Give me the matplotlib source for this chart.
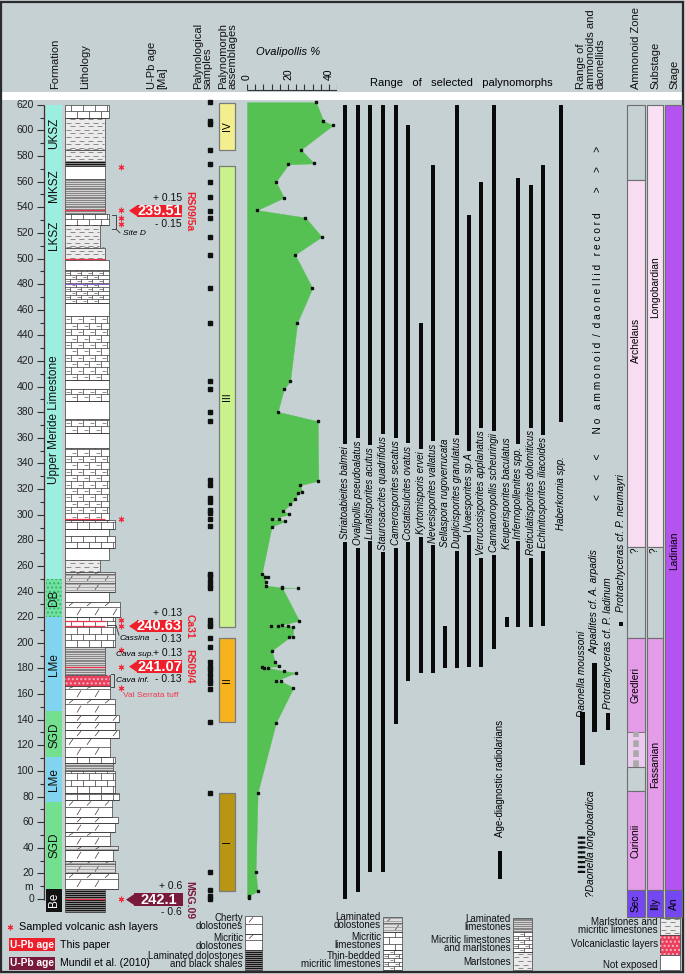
import numpy as np
import matplotlib
matplotlib.use("Agg")
import matplotlib.pyplot as plt
from matplotlib.patches import Rectangle, Polygon
from matplotlib.collections import LineCollection

plt.rcParams['font.family'] = ['Liberation Sans', 'DejaVu Sans']
plt.rcParams['hatch.color'] = '#3fae66'

BG = '#c6d1d3'

# ---------------------------------------------------------------- data
DEPTH_MAJOR = list(range(0, 621, 20))

FORM_NAMES = ['Be', 'SGD', 'LMe', 'SGD', 'LMe', 'DB', 'Upper Meride Limestone']
FORM_BASE = [-10, 7.8, 75.7, 110.8, 146.8, 220, 250]
FORM_TOP = [7.8, 75.7, 110.8, 146.8, 220, 250, 620]
FORM_LABEL_AT = [-1, 42, 93, 128, 183, 235, 374]
MEMBERS = ['UKSZ', 'MKSZ', 'LKSZ']
MEMBER_AT = [598, 557, 518]

# lithology beds: base, top, kind, right edge (column width)
LITHO = [
    (-10, 7.8, 'shale', 105), (7.8, 20, 'dolo', 118), (20, 30, 'lamdolo', 115),
    (30, 38, 'dolo', 113), (38, 41, 'lamdolo', 118), (41, 52, 'dolo', 110),
    (52, 59, 'dolo', 115), (59, 64, 'dolo', 118), (64, 77, 'dolo', 112),
    (77, 83, 'lime', 119), (83, 100, 'lime', 115), (100, 106, 'lamlime', 113),
    (106, 111, 'lime', 115), (111, 126, 'dolo', 110), (126, 132, 'dolo', 119),
    (132, 138, 'dolo', 115), (138, 144, 'dolo', 119), (144, 156, 'dolo', 115),
    (156, 166, 'dolo', 110), (166, 175, 'volc', 110), (175, 197, 'lamlime', 105),
    (197, 220, 'lime', 115), (220, 232, 'dolo', 120), (232, 240, 'none', 109),
    (240, 255, 'lamdolo', 115), (255, 265, 'marl', 100), (265, 274, 'none', 109),
    (274, 283, 'lime', 115), (283, 289, 'none', 109), (289, 296, 'lime', 115),
    (296, 352, 'limed', 109), (352, 364, 'none', 109), (364, 375, 'limed', 109),
    (375, 389, 'none', 109), (389, 398, 'limed', 109), (398, 405, 'none', 109),
    (405, 455, 'limed', 109), (455, 465, 'none', 109), (465, 491, 'tblime', 109),
    (491, 499, 'none', 109), (499, 508, 'marl', 105), (508, 526, 'marl', 100),
    (526, 535, 'lime', 109), (535, 562, 'lamlime', 105), (562, 572, 'none', 105),
    (572, 576, 'shale', 105), (576, 585, 'marl', 105), (585, 610, 'marl', 105),
    (610, 620, 'lime', 109),
]
ASH_LINES = [537.5, 500, 297, 217, 213, 181.4, 0]
ASH_STARS = [571.5, 537.5, 532, 527, 297, 218, 213, 194, 181.4, 164.5, -0.3]

AGES = ['239.51', '240.63', '241.07', '242.1']
AGE_DEPTH = [537.3, 213.0, 181.4, -0.5]
AGE_ERR = ['0.15', '0.13', '0.13', '0.6']
AGE_ID = ['RS09/5a', 'Ca31', 'RS09/4', 'MSG.09']
AGE_SRC = ['this', 'this', 'this', 'mundil']

SAMPLES = [622, 607, 605, 585, 574, 560, 548, 537, 532, 517, 503, 477, 450, 404,
           398, 380, 373, 327, 323, 313, 310, 304, 301, 297, 291, 254, 252, 248,
           245, 243, 218, 215, 213, 204, 197, 185, 181, 179, 175, 171, 169, 164,
           138, 83, 21, 7, 2, 0]

ASSEMB = ['IV', 'III', 'II', 'I']
ASSEMB_BASE = [585, 212, 138, 6]
ASSEMB_TOP = [621, 572, 204, 83]

OVA_DEPTH = [622, 607.6, 604, 585, 574.3, 573.5, 560, 547.5, 537.8, 532, 517, 503,
             477, 450, 404, 398, 380.4, 373, 326.5, 323, 318, 317, 312, 308, 303,
             300.5, 296.6, 296.4, 295, 290.6, 253.7, 251.6, 251, 247.7, 244.6,
             243.2, 243, 242.8, 217.3, 213.9, 213.4, 213.1, 213, 212.6, 204.8,
             204.3, 193.8, 185.2, 181.5, 181.3, 180.6, 180.5, 178, 176.7, 170.4,
             170.2, 165, 137.6, 83, 21.3, 6.2, 2.6, 0.5]
OVA_PCT = [33.7, 37.2, 41.8, 26.3, 32.7, 20.2, 14.1, 18.0, 5.0, 28.5, 36.4, 23.4,
           31.9, 24.5, 21.0, 18.0, 15.0, 34.5, 34.8, 25.9, 27.0, 25.0, 23.4, 21.0,
           17.7, 20.6, 12.4, 15.6, 18.5, 12.0, 7.2, 10.4, 8.8, 9.1, 9.3,
           17.2, 24.7, 17.2, 25.4, 16.9, 11.6, 15.3, 20.1, 22.6, 22.3,
           20.7, 12.0, 13.7, 15.6, 7.2, 8.4, 10.4, 18.0, 23.7, 14.1,
           16.4, 22.6, 14.1, 5.2, 4.2, 5.2, 1.0, 1.0]

SPECIES = ['Striatoabieites balmei', 'Ovalipollis pseudoalatus', 'Lunatisporites acutus',
           'Staurosaccites quadrifidus', 'Camerosporites secatus', 'Costatisulcites ovatus',
           'Kyrtomisporis ervei', 'Nevesisporites vallatus', 'Sellaspora rugoverrucata',
           'Duplicisporites granulatus', 'Uvaesporites sp.A', 'Verrucosisporites applanatus',
           'Cannanoropollis scheuringii', 'Keuperisporites baculatus', 'Infernopollenites spp.',
           'Reticulatisporites dolomiticus', 'Echinitosporites iliacoides', 'Haberkornia spp.']
SPECIES_BASE = [0, 5.7, 21.3, 21.3, 137, 170, 176.7, 176.7, 180.6, 180.6, 181.3, 181.3,
                195, 212.4, 212.4, 212.4, 213.4, 372.6]
SPECIES_TOP = [620, 620, 620, 620, 620, 604, 450, 573, 213.4, 620, 534, 560,
               620, 220, 563, 557, 573, 620]
SPECIES_X = [345, 357.7, 370, 383.3, 395.7, 408.3, 420.7, 432.7, 445, 457.3, 469, 481,
             494, 506.7, 518.3, 531, 543.3, 561]
RADIOLARIA = (15.6, 37.5)

AMMO = ['Daonella moussoni', 'Arpadites cf. A. arpadis', 'Protrachyceras cf. P. ladinum',
        'Protrachyceras cf. P. neumayri']
AMMO_BASE = [104.6, 130.6, 132, 213.5]
AMMO_TOP = [146, 184, 145, 216.5]
AMMO_X = [582.5, 594.5, 608, 621]
AMMO_LABEL_AT = [176, 232, 200, 278]
LONGOBARDICA = (20, 50)

ZONES = ['', 'Archelaus', '', 'Gredleri', '', '', 'Curionii', 'Sec']
ZONE_BASE = [561, 275, 203.5, 130.6, 103, 84, 7, -14]
ZONE_TOP = [620, 561, 275, 203.5, 130.6, 103, 84, 7]
ZONE_COL = [BG, '#f8dcf2', BG, '#e49be8', 'striped', BG, '#e49be8', '#7447f2']
ZONE_LABEL_AT = [None, 436, None, 167, None, None, 45, -3.5]
SUBSTAGES = ['Longobardian', '', 'Fassanian', 'Illy']
SUB_BASE = [275, 203.5, 7, -14]
SUB_TOP = [620, 275, 203.5, 7]
SUB_COL = ['#f9e0f4', BG, '#e49be8', '#7447f2']
SUB_LABEL_AT = [478, None, 105, -3.5]
STAGES = ['Ladinian', 'An']
STAGE_BASE = [7, -14]
STAGE_TOP = [620, 7]
STAGE_COL = ['#b553f0', '#7447f2']
STAGE_LABEL_AT = [272, -3.5]

# ---------------------------------------------------------------- layout
PPM, Y0 = 1.281, 899.0          # pixels per metre, pixel row of 0 m
M_TOP, M_BOT = Y0 / PPM, (Y0 - 974) / PPM
LX0 = 65                          # left edge of the lithology column

fig = plt.figure(figsize=(6.85, 9.74), dpi=100)
fig.patch.set_facecolor(BG)
lay = fig.add_axes([0, 0, 1, 1])
lay.set_xlim(0, 685)
lay.set_ylim(974, 0)
lay.axis('off')
ax = fig.add_axes([0, 0, 1, 1], zorder=1)
ax.set_xlim(0, 685)
ax.set_ylim(M_BOT, M_TOP)
ax.axis('off')

lay.add_patch(Rectangle((2, 92), 681, 8, facecolor='white', edgecolor='none'))
lay.add_patch(Rectangle((1.5, 1.5), 682, 970.5, fill=False, edgecolor='#2b2b2b', lw=1.6))

# ------------------------------------------------ lithology painters
SEG = {'k': [], 'g': [], 'lg': []}


def bed(b, t, x1, fc, x0=LX0):
    ax.add_patch(Rectangle((x0, b), x1 - x0, t - b, facecolor=fc, edgecolor='#3c3c3c',
                           linewidth=0.5, zorder=2))


def rows(b, t, step):
    ys = list(np.arange(b, t, step))
    return [(y, min(y + step, t)) for y in ys if t - y > 0.4]


def lime(b, t, x1, x0=LX0, step=5.0, bw=12.0, thin=False):
    bed(b, t, x1, 'white', x0)
    for i, (y, y2) in enumerate(rows(b, t, step)):
        SEG['k'].append([(x0, y), (x1, y)])
        x = x0 + bw * (0.5 if i % 2 else 1.0)
        while x < x1 - 1:
            SEG['k'].append([(x, y), (x, y2)])
            if thin:
                SEG['g'].append([(x - bw * 0.38, (y + y2) / 2), (x - bw * 0.08, (y + y2) / 2)])
            x += bw


def dolo(b, t, x1, x0=LX0, step=8.0, fc='white'):
    bed(b, t, x1, fc, x0)
    for i, (y, y2) in enumerate(rows(b, t, step)):
        SEG['k'].append([(x0, y), (x1, y)])
        x = x0 + (4 if i % 2 else 12)
        while x < x1 - 5:
            SEG['k'].append([(x, y + 0.2 * (y2 - y)), (x + 4, y + 0.85 * (y2 - y))])
            x += 18


def lamdolo(b, t, x1, x0=LX0):
    dolo(b, t, x1, x0, step=7.0, fc='#dedede')
    for y in np.arange(b + 1.2, t, 2.4):
        SEG['lg'].append([(x0, y), (x1, y)])


def lamlime(b, t, x1, x0=LX0):
    bed(b, t, x1, '#d2d2d2', x0)
    for y in np.arange(b + 0.7, t, 1.4):
        SEG['g'].append([(x0, y), (x1, y)])


def shale(b, t, x1, x0=LX0):
    bed(b, t, x1, '#141414', x0)
    for y in np.arange(b + 0.8, t, 1.6):
        SEG['lg'].append([(x0, y), (x1, y)])


def marl(b, t, x1, x0=LX0):
    bed(b, t, x1, '#ebebeb', x0)
    for i, (y, y2) in enumerate(rows(b, t, 2.8)):
        x = x0 + (1 if i % 2 else 5)
        while x < x1 - 2:
            SEG['g'].append([(x, y + 1.4), (min(x + 5, x1 - 1), y + 1.4)])
            x += 9


def volc(b, t, x1, x0=LX0):
    bed(b, t, x1, '#e8405c', x0)
    ax.add_patch(Rectangle((x0, b), x1 - x0, t - b, facecolor='none', edgecolor='#f7b3c0',
                           hatch='....', linewidth=0, zorder=2))


def noexp(b, t, x1, x0=LX0):
    bed(b, t, x1, 'white', x0)


PAINT = {'lime': lime,
         'limed': lambda b, t, x1, x0=LX0: lime(b, t, x1, x0, 5.0, 12, True),
         'tblime': lambda b, t, x1, x0=LX0: lime(b, t, x1, x0, 3.2, 11, True),
         'dolo': dolo, 'lamdolo': lamdolo, 'lamlime': lamlime, 'shale': shale,
         'marl': marl, 'volc': volc, 'none': noexp}

# ------------------------------------------------ depth scale
ax.vlines(44, -1, 620, color='#333', lw=0.9)
for m in range(0, 621, 10):
    major = m % 20 == 0
    ax.hlines(m, 37 if major else 40, 44, color='#333', lw=0.8)
for m in DEPTH_MAJOR:
    ax.text(34, m, str(m), ha='right', va='center', fontsize=7.5, color='#222')
ax.text(33, 9, 'm', ha='right', va='center', fontsize=7.5, color='#222')

# ------------------------------------------------ formations
FORM_COL = {'Be': '#121212', 'SGD': '#72e08e', 'LMe': '#80d4ef', 'DB': '#6fe3a2',
            'Upper Meride Limestone': '#9cefe0'}
for name, b, t, at in zip(FORM_NAMES, FORM_BASE, FORM_TOP, FORM_LABEL_AT):
    ax.add_patch(Rectangle((46, b), 16.5, t - b, facecolor=FORM_COL[name], edgecolor='none',
                           zorder=2))
    if name == 'DB':
        ax.add_patch(Rectangle((46, b), 16.5, t - b, facecolor='none', edgecolor='#3fae66',
                               hatch='....', linewidth=0, zorder=2))
    ax.text(54.5, at, name, rotation=90, ha='center', va='center', fontsize=8.5,
            color='white' if name == 'Be' else '#111', zorder=3)
for name, at in zip(MEMBERS, MEMBER_AT):
    ax.text(54.5, at, name, rotation=90, ha='center', va='center', fontsize=8.5, color='#111',
            zorder=3)

# ------------------------------------------------ lithology column
for b, t, kind, x1 in LITHO:
    PAINT[kind](b, t, x1)
for m in ASH_LINES:
    ax.hlines(m, LX0, 105, color='#e8344e', lw=0.9, zorder=4)
ax.hlines(480, LX0, 109, color='#8a5bd6', lw=0.7, zorder=4)
ax.plot([121.5] * len(ASH_STARS), ASH_STARS, ls='none', marker=(6, 2, 0), ms=4,
        mew=0.8, color='#ef2b3d', zorder=5)

# site annotations
note = dict(fontsize=6, style='italic', va='center', zorder=5)
ax.plot([112, 116, 116, 112], [534, 534, 523, 523], color='#333', lw=0.6, zorder=4)
ax.plot([116, 120], [523, 520], color='#333', lw=0.6, zorder=4)
ax.text(123, 519.5, 'Site D', **note)
ax.plot([108, 116, 119], [213.5, 213.5, 206], color='#333', lw=0.6, zorder=4)
ax.text(120, 203, 'Cassina', **note)
ax.text(116, 190.5, 'Cava sup.', **note)
ax.plot([111, 114, 114, 111], [175.5, 175.5, 165.5, 165.5], color='#333', lw=0.6, zorder=4)
ax.text(116, 170.5, 'Cava inf.', **note)
ax.text(123, 158.5, 'Val Serrata tuff', fontsize=6, color='#f0384c', va='center', zorder=5)

# ------------------------------------------------ U-Pb ages
SRC_COL = {'this': '#ee1f2b', 'mundil': '#7a1a3a'}
for age, d, err, sid, src in zip(AGES, AGE_DEPTH, AGE_ERR, AGE_ID, AGE_SRC):
    c = SRC_COL[src]
    x0, x1 = (134, 183) if src == 'mundil' else (137, 182)
    ax.add_patch(Rectangle((x0, d - 4.8), x1 - x0, 9.6, facecolor=c, edgecolor='none', zorder=4))
    ax.add_patch(Polygon([(x0 - 8, d), (x0, d + 4.2), (x0, d - 4.2)], closed=True,
                         facecolor=c, edgecolor='none', zorder=4))
    ax.text((x0 + x1) / 2, d, age, color='white', fontsize=10.5, fontweight='bold',
            ha='center', va='center', zorder=5)
    ax.text(182, d + 10.3, '+ ' + err, fontsize=7.5, ha='right', va='center', color='#111')
    ax.text(182, d - 10.0, '- ' + err, fontsize=7.5, ha='right', va='center', color='#111')
    ax.text(189.5, d, sid, rotation=-90, fontsize=7.5, fontweight='bold', color=c,
            ha='center', va='center')

# ------------------------------------------------ palynological samples
ax.plot([210.5] * len(SAMPLES), SAMPLES, ls='none', marker='s', ms=2.8, color='#111', zorder=4)

ASSEMB_COL = ['#f3ef8e', '#c9f28d', '#f7b31e', '#b89614']
for lab, b, t, c in zip(ASSEMB, ASSEMB_BASE, ASSEMB_TOP, ASSEMB_COL):
    ax.add_patch(Rectangle((219.5, b), 16, t - b, facecolor=c, edgecolor='#7a7a7a', lw=0.9,
                           zorder=3))
    ax.text(227.5, (b + t) / 2, lab, rotation=90, ha='center', va='center', fontsize=7.5,
            zorder=4)

# ------------------------------------------------ Ovalipollis %
ova = fig.add_axes([247 / 685, 0, 90.2 / 685, 1], zorder=2)
ova.set_xlim(0, 44)
ova.set_ylim(M_BOT, M_TOP)
ova.axis('off')
ova.fill_betweenx(OVA_DEPTH, 0, OVA_PCT, facecolor='#55c152', edgecolor='#55c152', lw=0.3)
ova.plot(OVA_PCT, OVA_DEPTH, ls='none', marker='s', ms=1.6, color='#111')
base = (Y0 - 90) / PPM
ova.hlines(base, 0, 44, color='#333', lw=0.8)
for p in range(0, 45, 4):
    ova.vlines(p, base, base + 4.6, color='#333', lw=0.8)
for p in (0, 20, 40):
    ova.text(p, base + 8, str(p), rotation=90, ha='center', va='bottom', fontsize=7.5)

# ------------------------------------------------ palynomorph ranges
for name, b, t, x in zip(SPECIES, SPECIES_BASE, SPECIES_TOP, SPECIES_X):
    ax.add_patch(Rectangle((x - 2.1, b), 4.2, t - b, facecolor='#0a0a0a', edgecolor='none',
                           zorder=3))
    ax.text(x, 317, name, rotation=90, ha='center', va='center', fontsize=7, style='italic',
            zorder=5, bbox=dict(boxstyle='square,pad=0.25', facecolor=BG, edgecolor='none'))
ax.add_patch(Rectangle((500 - 2.1, RADIOLARIA[0]), 4.2, RADIOLARIA[1] - RADIOLARIA[0],
                       facecolor='#0a0a0a', edgecolor='none', zorder=3))
ax.text(500, 94, 'Age-diagnostic radiolarians', rotation=90, ha='center', va='center',
        fontsize=7, zorder=5)

# ------------------------------------------------ ammonoids and daonellids
for name, b, t, x, at in zip(AMMO, AMMO_BASE, AMMO_TOP, AMMO_X, AMMO_LABEL_AT):
    w = 4.2 if 'neumayri' not in name else 3.6
    ax.add_patch(Rectangle((x - w / 2, b), w, t - b, facecolor='#0a0a0a', edgecolor='none',
                           zorder=3))
    ax.text(x, at, name, rotation=90, ha='center', va='center', fontsize=7.3, style='italic',
            zorder=5)
ax.plot([580.5] * 2, LONGOBARDICA, color='#111', lw=3.2, ls=(0, (0.5, 0.6)), zorder=3)
ax.plot([583.5] * 2, LONGOBARDICA, color='#111', lw=3.2, ls=(0, (0.5, 0.6)), zorder=3)
ax.text(591, 1.5, '?Daonella longobardica', rotation=90, ha='center', va='bottom',
        fontsize=7.3, style='italic', zorder=5)
ax.text(598, 450, '<     <     <       N o   a m m o n o i d  /  d a o n e l l i d   r e c o r d'
        '       >     >     >', rotation=90, ha='center', va='center', fontsize=7.3, zorder=5)

# ------------------------------------------------ zones, substages, stages
def column(x0, x1, names, bases, tops, cols, label_at):
    for n, b, t, c, at in zip(names, bases, tops, cols, label_at):
        if c == 'striped':
            ax.add_patch(Rectangle((x0, b), x1 - x0, t - b, facecolor='#ecc9ee',
                                   edgecolor='#777', lw=0.7, zorder=3))
            ax.vlines((x0 + x1) / 2, b, t, color='#a9a9a9', lw=4, ls=(0, (1.2, 0.6)), zorder=4)
            continue
        ax.add_patch(Rectangle((x0, b), x1 - x0, t - b, facecolor=c, edgecolor='#6e6e6e',
                               lw=0.8, zorder=3))
        if n:
            ax.text((x0 + x1) / 2, at, n, rotation=90, ha='center', va='center',
                    fontsize=7.3, zorder=5)


column(627, 645, ZONES, ZONE_BASE, ZONE_TOP, ZONE_COL, ZONE_LABEL_AT)
column(647, 663.5, SUBSTAGES, SUB_BASE, SUB_TOP, SUB_COL, SUB_LABEL_AT)
column(665.5, 682.5, STAGES, STAGE_BASE, STAGE_TOP, STAGE_COL, STAGE_LABEL_AT)
ax.text(636, 272, '?', rotation=90, ha='center', va='center', fontsize=7, zorder=5)
ax.text(655, 272, '?', rotation=90, ha='center', va='center', fontsize=7, zorder=5)

# ------------------------------------------------ legend symbols (below 0 m)
LEG_X = [245, 383, 513, 660]
LEG_W = [17, 19, 19, 20]
LEG_ROWS = [[('dolo', 916, 934), ('dolo', 934, 950), ('shale', 950, 970)],
            [('lamdolo', 917, 932), ('lime', 932, 950), ('tblime', 950, 970)],
            [('lamlime', 918, 932), ('tblime', 932, 952), ('marl', 952, 970)],
            [('marl', 918, 935), ('volc', 935, 955), ('none', 955, 970)]]
for x0, w, group in zip(LEG_X, LEG_W, LEG_ROWS):
    for kind, ya, yb in group:
        PAINT[kind]((Y0 - yb) / PPM, (Y0 - ya) / PPM, x0 + w, x0)

for key, c, lw in (('k', '#3a3a3a', 0.5), ('g', '#6f6f6f', 0.55), ('lg', '#9c9c9c', 0.6)):
    ax.add_collection(LineCollection(SEG[key], colors=c, linewidths=lw, zorder=3))

# ------------------------------------------------ headers
hdr = dict(rotation=90, ha='center', va='bottom', fontsize=8, color='#111',
           multialignment='left', linespacing=1.0)
lay.text(55, 89, 'Formation', **hdr)
lay.text(85, 89, 'Lithology', **hdr)
lay.text(157, 89, 'U-Pb age\n[Ma]', **hdr)
lay.text(203, 89, 'Palynological\nsamples', **hdr)
lay.text(228, 89, 'Palynomorph\nassemblages', **hdr)
lay.text(591, 89, 'Range of\nammonoids and\ndaonellids', **hdr)
lay.text(636, 89, 'Ammonoid Zone', **hdr)
lay.text(655, 89, 'Substage', **hdr)
lay.text(674, 89, 'Stage', **hdr)
lay.text(288, 52, 'Ovalipollis %', style='italic', ha='center', va='center', fontsize=8)
lay.text(370, 83, 'Range   of   selected   palynomorphs', ha='left', va='center', fontsize=8)

# ------------------------------------------------ legend texts
leg = dict(ha='right', va='center', fontsize=7, linespacing=0.85, color='#111')
lay.text(243, 922, 'Cherty\ndolostones', **leg)
lay.text(243, 942, 'Micritic\ndolostones', **leg)
lay.text(243, 960, 'Laminated dolostones\nand black shales', **leg)
lay.text(381, 921, 'Laminated\ndolostones', **leg)
lay.text(381, 941, 'Micritic\nlimestones', **leg)
lay.text(381, 960, 'Thin-bedded\nmicritic limestones', **leg)
lay.text(511, 923, 'Laminated\nlimestones', **leg)
lay.text(511, 944, 'Micritic limestones\nand marlstones', **leg)
lay.text(511, 962, 'Marlstones', **leg)
lay.text(658, 926, 'Marlstones and\nmicritic limestones', **leg)
lay.text(658, 944, 'Volcaniclastic layers', **leg)
lay.text(658, 965, 'Not exposed', **leg)

lay.plot([10], [927], ls='none', marker=(6, 2, 0), ms=4, mew=0.8, color='#ef2b3d')
lay.text(19, 927, 'Sampled volcanic ash layers', fontsize=7.8, va='center')
for y, c, txt in ((944.5, '#ee1f2b', 'This paper'), (963, '#7a1a3a', 'Mundil et al. (2010)')):
    lay.add_patch(Rectangle((9, y - 6.5), 46, 13, facecolor=c, edgecolor='none'))
    lay.text(32, y, 'U-Pb age', color='white', fontsize=7.3, fontweight='bold',
             ha='center', va='center')
    lay.text(60, y, txt, fontsize=7.6, va='center')

fig.savefig('out.png', dpi=100, facecolor=BG)
